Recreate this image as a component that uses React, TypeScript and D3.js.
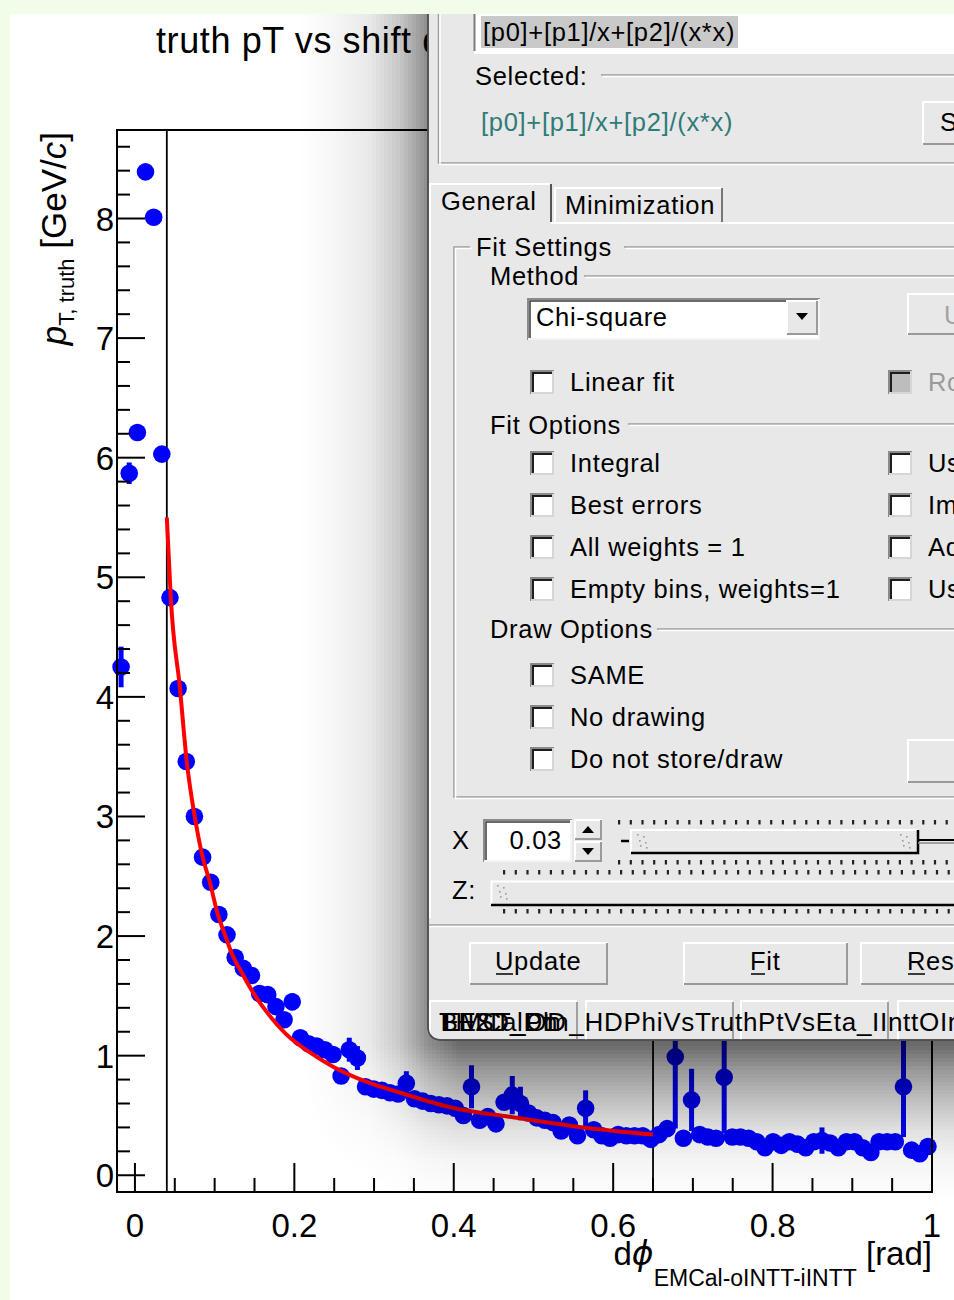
import React from 'react';
import * as d3 from 'd3';

const W = 954;
const H = 1300;
const FONT = "'Liberation Sans', Arial, Helvetica, sans-serif";

// TProfile binning: 100 bins over [-0.0225, 1]
const xMin = -0.0225;
const xMax = 1.0;
const nBins = 100;

// bin contents (pT truth, GeV/c)
const binValues = [
  4.25, 5.87, 6.21, 8.39, 8.01, 6.03, 4.83, 4.07, 3.46, 3.0,
  2.66, 2.45, 2.18, 2.01, 1.82, 1.73, 1.67, 1.52, 1.51, 1.41,
  1.3, 1.45, 1.15, 1.1, 1.08, 1.05, 1.01, 0.83, 1.05, 0.98,
  0.74, 0.72, 0.71, 0.69, 0.68, 0.77, 0.64, 0.62, 0.6, 0.59,
  0.58, 0.56, 0.5, 0.74, 0.46, 0.49, 0.43, 0.61, 0.67, 0.6,
  0.52, 0.48, 0.46, 0.44, 0.37, 0.42, 0.33, 0.56, 0.38, 0.33,
  0.31, 0.34, 0.33, 0.33, 0.33, 0.3, 0.34, 0.39, 0.99, 0.31,
  0.63, 0.34, 0.32, 0.31, 0.82, 0.32, 0.32, 0.31, 0.28, 0.23,
  0.28, 0.25, 0.28, 0.26, 0.23, 0.28, 0.29, 0.27, 0.23, 0.28,
  0.28, 0.23, 0.19, 0.28, 0.28, 0.28, 0.74, 0.21, 0.18, 0.24,
];

const binErrors = [
  0.17, 0.09, 0.02, 0.02, 0.02, 0.02, 0.02, 0.02, 0.02, 0.02,
  0.02, 0.02, 0.02, 0.02, 0.02, 0.02, 0.02, 0.02, 0.02, 0.02,
  0.02, 0.07, 0.02, 0.02, 0.02, 0.02, 0.02, 0.02, 0.1, 0.1,
  0.02, 0.02, 0.02, 0.02, 0.02, 0.1, 0.02, 0.02, 0.02, 0.02,
  0.02, 0.02, 0.02, 0.18, 0.02, 0.02, 0.02, 0.05, 0.16, 0.14,
  0.02, 0.02, 0.02, 0.02, 0.02, 0.02, 0.02, 0.15, 0.02, 0.02,
  0.02, 0.02, 0.02, 0.02, 0.02, 0.02, 0.02, 0.02, 0.6, 0.02,
  0.26, 0.02, 0.02, 0.02, 0.47, 0.02, 0.02, 0.02, 0.02, 0.02,
  0.02, 0.02, 0.02, 0.02, 0.02, 0.02, 0.11, 0.02, 0.02, 0.02,
  0.02, 0.02, 0.02, 0.02, 0.02, 0.02, 0.42, 0.02, 0.02, 0.02,
];

// fitted curve [p0]+[p1]/x+[p2]/(x*x)
const fitX = [0.04, 0.042, 0.045, 0.0565, 0.065, 0.075, 0.085, 0.094, 0.104, 0.113, 0.12, 0.136, 0.148, 0.166, 0.188, 0.228, 0.248, 0.291, 0.333, 0.395, 0.479, 0.562, 0.65];
const fitY = [5.5, 5.23, 4.83, 4.07, 3.46, 3.0, 2.66, 2.45, 2.18, 2.01, 1.88, 1.67, 1.53, 1.36, 1.19, 0.99, 0.91, 0.78, 0.69, 0.57, 0.48, 0.4, 0.34];
const fitRange = [0.04, 0.65];

const xMajor = [0, 0.2, 0.4, 0.6, 0.8, 1];
const xLabels = ['0', '0.2', '0.4', '0.6', '0.8', '1'];
const yMajor = [0, 1, 2, 3, 4, 5, 6, 7, 8];
const yLabels = ['0', '1', '2', '3', '4', '5', '6', '7', '8'];

const formula = '[p0]+[p1]/x+[p2]/(x*x)';
const fitOptLeft = ['Integral', 'Best errors', 'All weights = 1', 'Empty bins, weights=1'];
const fitOptRight = ['Use range', 'Improve fit results', 'Add to list', 'Use Gradient'];
const drawOpts = ['SAME', 'No drawing', 'Do not store/draw'];
const garbled = ['TH2D_Ph', 'BEST_OD', 'EMCalDt'];

const gui = { fontFamily: FONT, fontSize: 25.5, letterSpacing: 0.7 } as const;
const BG = '#e8e8e8';

function Raised({ x, y, w, h }: { x: number; y: number; w: number; h: number }) {
  return (
    <g>
      <rect x={x} y={y} width={w} height={h} fill={BG} />
      <path d={`M${x + 1},${y + h} V${y + 1} H${x + w}`} stroke="#fff" strokeWidth={2} fill="none" />
      <path d={`M${x + w - 1},${y + 1} V${y + h - 1} H${x + 1}`} stroke="#9a9a9a" strokeWidth={2} fill="none" />
    </g>
  );
}

function Sunken({ x, y, w, h, fill = '#fff' }: { x: number; y: number; w: number; h: number; fill?: string }) {
  return (
    <g>
      <rect x={x} y={y} width={w} height={h} fill={fill} />
      <path d={`M${x + 1},${y + h} V${y + 1} H${x + w}`} stroke="#8a8a8a" strokeWidth={2} fill="none" />
      <path d={`M${x + 3},${y + h - 2} V${y + 3} H${x + w - 2}`} stroke="#3a3a3a" strokeWidth={1.5} fill="none" />
      <path d={`M${x + w - 1},${y + 1} V${y + h - 1} H${x + 1}`} stroke="#f4f4f4" strokeWidth={2} fill="none" />
    </g>
  );
}

function CheckBox({ x, y, disabled = false }: { x: number; y: number; disabled?: boolean }) {
  const s = 24;
  return (
    <g>
      <rect x={x} y={y} width={s} height={s} fill={disabled ? '#bdbdbd' : '#fff'} />
      <path d={`M${x + 1},${y + s} V${y + 1} H${x + s}`} stroke="#8a8a8a" strokeWidth={2} fill="none" />
      <path d={`M${x + 3},${y + s - 2} V${y + 3} H${x + s - 2}`} stroke="#1e1e1e" strokeWidth={2} fill="none" />
      <path d={`M${x + s - 1},${y + 1} V${y + s - 1} H${x + 1}`} stroke="#d6d6d6" strokeWidth={2} fill="none" />
    </g>
  );
}

function Groove({ d }: { d: string }) {
  return (
    <g fill="none">
      <path d={d} stroke="#9c9c9c" strokeWidth={1.5} />
      <path d={d} stroke="#fff" strokeWidth={1.5} transform="translate(1.5,1.5)" />
    </g>
  );
}

function Dots({ x0, x1, y }: { x0: number; x1: number; y: number }) {
  const xs = d3.range(x0, x1, 11.7);
  return (
    <g fill="#222">
      {xs.map((d, i) => (
        <rect key={i} x={d} y={y - 2} width={2.2} height={4.5} />
      ))}
    </g>
  );
}

function Grip({ x, y }: { x: number; y: number }) {
  const pts = [[0, 0], [6, 2], [2, 6], [8, 8], [3, 11], [9, 13]];
  return (
    <g fill="#9a9a9a">
      {pts.map((p, i) => (
        <rect key={i} x={x + p[0]} y={y + p[1]} width={1.6} height={1.6} />
      ))}
    </g>
  );
}

// window shadow falloff: horizontal (x 300..460) and vertical (y 1030..1200), [offset, weight]
const shadeH = [[0, 0], [0.19, 0.05], [0.44, 0.15], [0.625, 0.37], [0.8, 0.75], [1, 1]];
const shadeV = [[0, 1], [0.09, 0.97], [0.235, 0.67], [0.41, 0.42], [0.59, 0.2], [0.765, 0.07], [1, 0]];
const shadeMax = 0.6;

function Shadow() {
  const hx = d3.scaleLinear().domain(shadeH.map((s) => 300 + s[0] * 160)).range(shadeH.map((s) => s[1])).clamp(true);
  const vy = d3.scaleLinear().domain(shadeV.map((s) => 1030 + s[0] * 170)).range(shadeV.map((s) => s[1])).clamp(true);
  const step = 4;
  const xs = d3.range(300, 460, step);
  const ys = d3.range(1030, 1200, step);
  const cells: JSX.Element[] = [];
  xs.forEach((x0) => {
    const h = hx(x0 + step / 2);
    cells.push(<rect key={`c${x0}`} x={x0} y={0} width={step} height={1030} fillOpacity={shadeMax * h} />);
    ys.forEach((y0) => {
      const a = shadeMax * h * vy(y0 + step / 2);
      if (a > 0.004) cells.push(<rect key={`g${x0}_${y0}`} x={x0} y={y0} width={step} height={step} fillOpacity={a} />);
    });
  });
  ys.forEach((y0) => {
    cells.push(<rect key={`r${y0}`} x={460} y={y0} width={W - 460} height={step} fillOpacity={shadeMax * vy(y0 + step / 2)} />);
  });
  return (
    <g fill="#000" shapeRendering="crispEdges">
      {cells}
    </g>
  );
}

export default function App() {
  const x = d3.scaleLinear().domain([xMin, xMax]).range([117, 932]);
  const y = d3.scaleLinear().domain([-0.14, 8.74]).range([1192, 130]);
  const bw = (xMax - xMin) / nBins;
  const pts = binValues.map((v, i) => ({ cx: xMin + (i + 0.5) * bw, v, e: binErrors[i] }));

  const xMinor = d3.range(0, 1.0001, 0.05).filter((t) => !xMajor.some((m) => Math.abs(m - t) < 1e-6));
  const yMinor = d3.range(0, 8.7, 0.2).filter((t) => !yMajor.some((m) => Math.abs(m - t) < 1e-6));

  const fitPath = d3
    .line<number>()
    .x((_, i) => x(fitX[i]))
    .y((d) => y(d))
    .curve(d3.curveMonotoneX)(fitY) as string;

  const dlg = 'M428,-30 V1026 Q428,1040 442,1040 H990 V-30 Z';
  const checkYs = [451, 493, 535, 577];
  const drawYs = [663, 705, 747];

  return (
    <svg width={W} height={H} style={{ position: 'absolute', left: 0, top: 0, display: 'block' }} fontFamily={FONT}>
      <defs>
        <clipPath id="dlgClip">
          <path d={dlg} />
        </clipPath>
      </defs>
      <rect x={0} y={0} width={W} height={H} fill="#fff" />

      {/* title */}
      <text x={156} y={53} fontSize={36} letterSpacing={0.6} fill="#000">truth pT vs shift dphi</text>

      {/* fit range markers */}
      {fitRange.map((r, i) => (
        <line key={i} x1={x(r)} x2={x(r)} y1={130} y2={1192} stroke="#000" strokeWidth={1.8} />
      ))}

      {/* error bars + markers */}
      <g stroke="#0000ff" strokeWidth={5}>
        {pts.map((p, i) => (
          <line key={i} x1={x(p.cx)} x2={x(p.cx)} y1={y(p.v - p.e)} y2={y(p.v + p.e)} />
        ))}
      </g>
      <g fill="#0000ff">
        {pts.map((p, i) => (
          <circle key={i} cx={x(p.cx)} cy={y(p.v)} r={8.8} />
        ))}
      </g>

      <path d={fitPath} fill="none" stroke="#ff0000" strokeWidth={4} />

      {/* frame and axes */}
      <rect x={117} y={130} width={815} height={1062} fill="none" stroke="#000" strokeWidth={2} />
      <g stroke="#000" strokeWidth={2}>
        {xMajor.map((t) => (
          <line key={'xM' + t} x1={x(t)} x2={x(t)} y1={1192} y2={1163} />
        ))}
        {xMinor.map((t, i) => (
          <line key={'xm' + i} x1={x(t)} x2={x(t)} y1={1192} y2={1178} />
        ))}
        {yMajor.map((t) => (
          <line key={'yM' + t} x1={117} x2={145} y1={y(t)} y2={y(t)} />
        ))}
        {yMinor.map((t, i) => (
          <line key={'ym' + i} x1={117} x2={130} y1={y(t)} y2={y(t)} />
        ))}
      </g>
      <g fontSize={33} fill="#000">
        {xMajor.map((t, i) => (
          <text key={i} x={x(t)} y={1237} textAnchor="middle">{xLabels[i]}</text>
        ))}
        {yMajor.map((t, i) => (
          <text key={i} x={114} y={y(t) + 12} textAnchor="end">{yLabels[i]}</text>
        ))}
      </g>

      {/* axis titles */}
      <text transform="translate(66,132) rotate(-90)" textAnchor="end" fontSize={35} fill="#000">
        <tspan fontStyle="italic">p</tspan>
        <tspan fontSize={22} dy={8}>T, truth</tspan>
        <tspan dy={-8}> [GeV/</tspan>
        <tspan fontStyle="italic">c</tspan>
        <tspan>]</tspan>
      </text>
      <text x={932} y={1265} textAnchor="end" fontSize={33} fill="#000">
        <tspan>d</tspan>
        <tspan fontStyle="italic" fontFamily="'DejaVu Sans', sans-serif">ϕ</tspan>
        <tspan fontSize={23} dy={21}>EMCal-oINTT-iINTT</tspan>
        <tspan dy={-21}> [rad]</tspan>
      </text>

      {/* window shadow of the fit panel */}
      <Shadow />

      {/* Fit panel dialog */}
      <path d={dlg} fill={BG} stroke="#4e4e4e" strokeWidth={1.5} />
      <g clipPath="url(#dlgClip)" style={gui} fill="#000">
        {/* formula entry */}
        <rect x={474} y={-10} width={500} height={64} fill="#fff" />
        <line x1={474.5} x2={474.5} y1={-10} y2={51} stroke="#7a7a7a" strokeWidth={2} />
        <rect x={481} y={16} width={257} height={32} fill="#c9c9c9" />
        <text x={483} y={41}>{formula}</text>
        <text x={475} y={85}>Selected:</text>
        <Groove d="M601,75 H990" />
        <text x={481} y={131} fill="#2f7b78">{formula}</text>
        <Raised x={922} y={101} w={70} h={44} />
        <text x={940} y={131}>Set Parameters...</text>
        <Groove d="M438.5,-10 V163 H990" />

        {/* tabs */}
        <path d="M430,224 V184 H550" fill="none" stroke="#fff" strokeWidth={2} />
        <path d="M551,184 V222" fill="none" stroke="#555" strokeWidth={2} />
        <text x={441} y={210}>General</text>
        <path d="M555,222 V188 H721" fill="none" stroke="#fff" strokeWidth={2} />
        <path d="M722,188 V222" fill="none" stroke="#777" strokeWidth={2} />
        <text x={565} y={214}>Minimization</text>
        <path d="M551,223 H990" stroke="#fff" strokeWidth={2} />
        <path d="M430,224 V918" stroke="#fff" strokeWidth={2} />

        {/* Fit Settings group */}
        <Groove d="M470,247 H454 V797 H990" />
        <Groove d="M624,247 H990" />
        <text x={476} y={256}>Fit Settings</text>
        <text x={490} y={285}>Method</text>
        <Groove d="M584,276 H990" />
        <Sunken x={527} y={298} w={293} h={42} />
        <Raised x={786} y={300} w={32} h={35} />
        <path d="M796,313 H808 L802,320 Z" fill="#000" />
        <text x={536} y={326}>Chi-square</text>
        <Raised x={907} y={293} w={70} h={42} />
        <text x={944} y={324} fill="#a3a3a3">User-Defined...</text>

        <CheckBox x={530} y={370} />
        <text x={570} y={391}>Linear fit</text>
        <CheckBox x={888} y={370} disabled />
        <text x={928} y={391} fill="#9a9a9a">Robust:</text>

        <text x={490} y={434}>Fit Options</text>
        <Groove d="M628,424 H990" />
        {fitOptLeft.map((t, i) => (
          <g key={t}>
            <CheckBox x={530} y={checkYs[i]} />
            <text x={570} y={checkYs[i] + 21}>{t}</text>
          </g>
        ))}
        {fitOptRight.map((t, i) => (
          <g key={t}>
            <CheckBox x={888} y={checkYs[i]} />
            <text x={928} y={checkYs[i] + 21}>{t}</text>
          </g>
        ))}

        <text x={490} y={638}>Draw Options</text>
        <Groove d="M657,629 H990" />
        {drawOpts.map((t, i) => (
          <g key={t}>
            <CheckBox x={530} y={drawYs[i]} />
            <text x={570} y={drawYs[i] + 21}>{t}</text>
          </g>
        ))}
        <Raised x={907} y={739} w={70} h={44} />

        {/* range sliders */}
        <text x={452} y={849}>X</text>
        <Sunken x={483} y={819} w={89} h={43} />
        <text x={562} y={849} textAnchor="end">0.03</text>
        <Raised x={574} y={819} w={28} h={21} />
        <path d="M582,833 H594 L588,826 Z" fill="#000" />
        <Raised x={574} y={841} w={28} h={21} />
        <path d="M582,848 H594 L588,855 Z" fill="#000" />
        <Dots x0={618} x1={990} y={822} />
        <Dots x0={618} x1={990} y={862} />
        <Dots x0={503} x1={990} y={872} />
        <Dots x0={503} x1={990} y={911} />
        <line x1={621} x2={629} y1={841} y2={841} stroke="#000" strokeWidth={2.5} />
        <rect x={631} y={830} width={287} height={23} fill={BG} />
        <path d="M631,853 V830 H918" fill="none" stroke="#fff" strokeWidth={2} />
        <path d="M918,830 V853 H631" fill="none" stroke="#000" strokeWidth={2.5} />
        <Grip x={637} y={834} />
        <Grip x={900} y={834} />
        <line x1={918} x2={990} y1={840} y2={840} stroke="#000" strokeWidth={2} />
        <line x1={918} x2={990} y1={843} y2={843} stroke="#8a8a8a" strokeWidth={1.5} />

        <text x={452} y={899}>Z:</text>
        <rect x={491} y={881} width={500} height={24} fill={BG} />
        <path d="M491.5,905 V881.5 H990" fill="none" stroke="#fff" strokeWidth={2} />
        <path d="M491,905 H990" fill="none" stroke="#000" strokeWidth={2.5} />
        <Grip x={497} y={885} />

        <Groove d="M428,925 H990" />

        {/* action buttons */}
        <Raised x={469} y={942} w={139} h={43} />
        <text x={495} y={970}>Update</text>
        <line x1={496} x2={513} y1={974} y2={974} stroke="#000" strokeWidth={1.5} />
        <Raised x={683} y={942} w={165} h={43} />
        <text x={750} y={970}>Fit</text>
        <line x1={751} x2={765} y1={974} y2={974} stroke="#000" strokeWidth={1.5} />
        <Raised x={860} y={942} w={140} h={43} />
        <text x={907} y={970}>Reset</text>
        <line x1={908} x2={925} y1={974} y2={974} stroke="#000" strokeWidth={1.5} />

        {/* canvas tab strip */}
        {[[429, 577], [585, 733], [740, 888], [897, 1000]].map(([a, b], i) => (
          <g key={i} fill="none">
            <path d={`M${a + 1},1040 V1001 H${b}`} stroke="#fff" strokeWidth={2} />
            <path d={`M${b},1002 V1040`} stroke="#a0a0a0" strokeWidth={2} />
          </g>
        ))}
        <g fontSize={26}>
          {garbled.map((s, i) => (
            <text key={s} x={439 + i * 1.5} y={1031}>{s}</text>
          ))}
          <text x={547} y={1031}>m_HDPhiVsTruthPtVsEta_IInttOIntt</text>
        </g>
      </g>
      <path d={dlg} fill="none" stroke="#4e4e4e" strokeWidth={1.5} />

      {/* page margins */}
      <rect x={0} y={0} width={W} height={14} fill="#effde9" />
      <rect x={0} y={0} width={10} height={H} fill="#effde9" />
    </svg>
  );
}
